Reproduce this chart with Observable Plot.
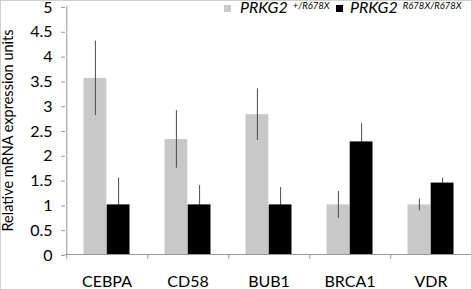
<!DOCTYPE html>
<html><head><meta charset="utf-8">
<script src="https://cdn.jsdelivr.net/npm/d3@7"></script>
<script src="https://cdn.jsdelivr.net/npm/@observablehq/plot@0.6"></script>
<style>
body{margin:0;background:#fff;}
#wrap{position:relative;width:472px;height:290px;overflow:hidden;font-family:Lato,sans-serif;}
#chart svg{display:block;}
#border{position:absolute;left:0;top:0;width:472px;height:290px;box-sizing:border-box;border:1px solid #cfcfcf;pointer-events:none;}
#legend{position:absolute;top:0;left:0;font-size:16px;line-height:14px;font-style:italic;color:#000;}
#legend .sw{position:absolute;width:7px;height:7px;}
#legend .lb{position:absolute;white-space:nowrap;}
#legend sup{font-size:9.5px;line-height:9px;vertical-align:0;position:relative;top:-4px;margin-left:5px;}
</style>
</head><body>
<div id="wrap"><div id="chart"></div>
<div id="legend">
  <div class="sw" style="left:224px;top:5px;background:#c8c8c8"></div>
  <div class="lb" style="left:240px;top:0px">PRKG2<sup>+/R678X</sup></div>
  <div class="sw" style="left:336px;top:5px;background:#000"></div>
  <div class="lb" style="left:350px;top:0px">PRKG2<sup>R678X/R678X</sup></div>
</div>
<div id="border"></div></div>
<script>
const genes = ["CEBPA","CD58","BUB1","BRCA1","VDR"];
const het = [3.55, 2.32, 2.82, 1.0, 1.0];
const hetErr = [0.75, 0.58, 0.52, 0.27, 0.12];
const hom = [1.0, 1.0, 1.0, 2.27, 1.44];
const homErr = [0.54, 0.39, 0.35, 0.37, 0.1];
const yTicks = d3.range(0, 5.01, 0.5);
const yLabel = "Relative mRNA expression units";

const hetData = genes.map((g,i)=>({gene:g, v:het[i], lo:het[i]-hetErr[i], hi:het[i]+hetErr[i]}));
const homData = genes.map((g,i)=>({gene:g, v:hom[i], lo:hom[i]-homErr[i], hi:hom[i]+homErr[i]}));

const W = 472, H = 290, ML = 65, MR = 0;
const bw = (W - ML - MR) / genes.length;
const off = 17.5, barW = 23.2;
const cHet = off + barW/2, cHom = off + barW*1.5;
const capW = 4;
const errColor = "#4a4a4a";

const chart = Plot.plot({
  width: W, height: H,
  marginLeft: ML, marginRight: MR, marginTop: 6, marginBottom: 36,
  style: {fontFamily: "Lato, sans-serif", background: "transparent", overflow: "visible"},
  x: {domain: genes, padding: 0, label: null},
  y: {domain: [0,5], label: null},
  marks: [
    Plot.axisY({ticks: yTicks, tickSize: 4, tickPadding: 9, fontSize: 16, dy: 1, stroke: "#999", color: "#000", label: null, tickFormat: d => String(d)}),
    Plot.text([yLabel], {frameAnchor: "left", dx: -57, rotate: -90, textAnchor: "middle", fontSize: 14.5, fill: "#000"}),
    Plot.axisX({tickSize: 0, tickPadding: 21, fontSize: 16, color: "#000", label: null}),
    Plot.barY(hetData, {x: "gene", y: "v", fill: "#c8c8c8", insetLeft: off, insetRight: bw - off - barW}),
    Plot.ruleX(hetData, {x: "gene", y1: "lo", y2: "hi", dx: cHet - bw/2, stroke: errColor, strokeWidth: 1}),
    Plot.ruleX(homData, {x: "gene", y1: "lo", y2: "hi", dx: cHom - bw/2, stroke: errColor, strokeWidth: 1}),
    Plot.ruleY(hetData, {x: "gene", y: "hi", insetLeft: cHet - capW/2, insetRight: bw - cHet - capW/2, stroke: errColor}),
    Plot.ruleY(hetData, {x: "gene", y: "lo", insetLeft: cHet - capW/2, insetRight: bw - cHet - capW/2, stroke: errColor}),
    Plot.ruleY(homData, {x: "gene", y: "hi", insetLeft: cHom - capW/2, insetRight: bw - cHom - capW/2, stroke: errColor}),
    Plot.barY(homData, {x: "gene", y: "v", fill: "#000", insetLeft: off + barW, insetRight: bw - off - 2*barW}),
    Plot.ruleY([0], {stroke: "#999"}),
    Plot.ruleX([genes[0]], {x: d => d, y1: 0, y2: 5, dx: -bw/2 + 0.5, stroke: "#999"}),
    Plot.ruleX(genes, {x: d => d, y1: 0, y2: -0.1, dx: -bw/2 + 0.5, stroke: "#999"})
  ]
});
document.getElementById("chart").appendChild(chart);
</script>
</body></html>
